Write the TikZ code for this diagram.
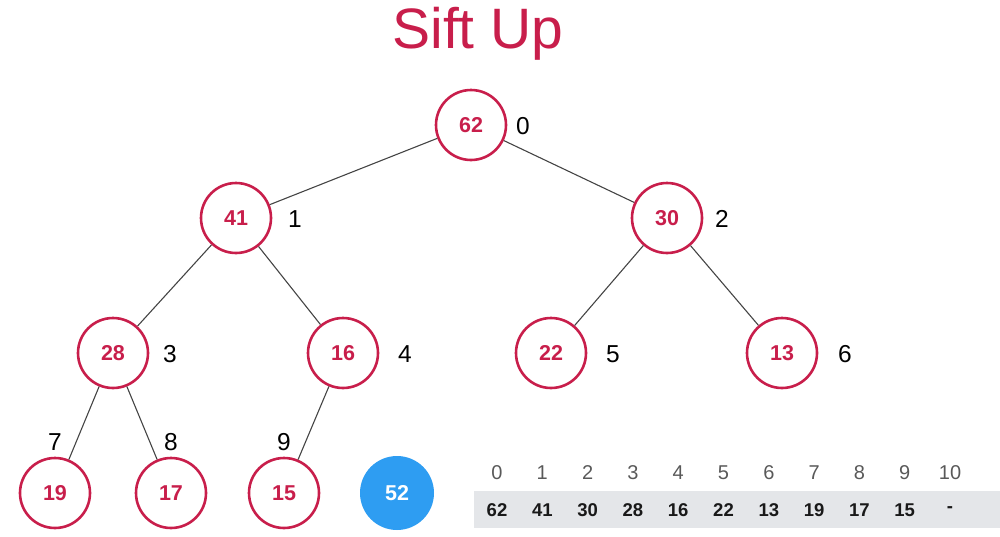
\documentclass[tikz,border=0pt]{standalone}
\usepackage{fontspec}
\setmainfont{Liberation Sans}
\definecolor{crim}{HTML}{C81E4B}
\definecolor{heapblue}{HTML}{2E9DF2}
\definecolor{arrgray}{HTML}{E4E6E9}
\definecolor{edgegray}{HTML}{444444}
\begin{document}
\begin{tikzpicture}[x=1pt,y=-1pt,
  hnode/.style={circle,draw=crim,line width=2.6pt,minimum size=70pt,inner sep=0pt,text=crim,font=\fontsize{21.5}{21.5}\selectfont\bfseries},
  newnode/.style={circle,fill=heapblue,minimum size=74pt,inner sep=0pt,text=white,font=\fontsize{21.5}{21.5}\selectfont\bfseries},
  idx/.style={font=\fontsize{24.5}{24.5}\selectfont,text=black},
  aidx/.style={font=\fontsize{20}{20}\selectfont,text=black!65},
  aval/.style={font=\fontsize{18.5}{18.5}\selectfont\bfseries,text=black!90},
  edge/.style={draw=edgegray,line width=1.1pt}]
\useasboundingbox (0,0) rectangle (1000,536);
\node[text=crim,font=\fontsize{57}{57}\selectfont] (title) at (478,34) {Sift Up};
\node[hnode] (n0) at (471,125) {62};
\node[hnode] (n1) at (236,218) {41};
\node[hnode] (n2) at (667,218) {30};
\node[hnode] (n3) at (113,353) {28};
\node[hnode] (n4) at (343,353) {16};
\node[hnode] (n5) at (551,353) {22};
\node[hnode] (n6) at (782,353) {13};
\node[hnode] (n7) at (55,493) {19};
\node[hnode] (n8) at (171,493) {17};
\node[hnode] (n9) at (284,493) {15};
\node[newnode] (n10) at (397,493) {52};
\node[idx] (i0) at (523,126) {0};
\node[idx] (i1) at (295,219) {1};
\node[idx] (i2) at (722,219) {2};
\node[idx] (i3) at (170,354) {3};
\node[idx] (i4) at (405,354) {4};
\node[idx] (i5) at (613,354) {5};
\node[idx] (i6) at (845,354) {6};
\node[idx] (i7) at (55,442) {7};
\node[idx] (i8) at (171,442) {8};
\node[idx] (i9) at (284,442) {9};
\draw[edge] (n0) -- (n1);
\draw[edge] (n0) -- (n2);
\draw[edge] (n1) -- (n3);
\draw[edge] (n1) -- (n4);
\draw[edge] (n2) -- (n5);
\draw[edge] (n2) -- (n6);
\draw[edge] (n3) -- (n7);
\draw[edge] (n3) -- (n8);
\draw[edge] (n4) -- (n9);
\fill[arrgray] (474,491) rectangle (1000,528);
\foreach \i/\v in {0/62,1/41,2/30,3/28,4/16,5/22,6/13,7/19,8/17,9/15,10/-} {
  \node[aidx] (a\i) at ({497+45.3*\i},473) {\i};
  \node[aval] (v\i) at ({497+45.3*\i},510) {\v};
}
\end{tikzpicture}
\end{document}
